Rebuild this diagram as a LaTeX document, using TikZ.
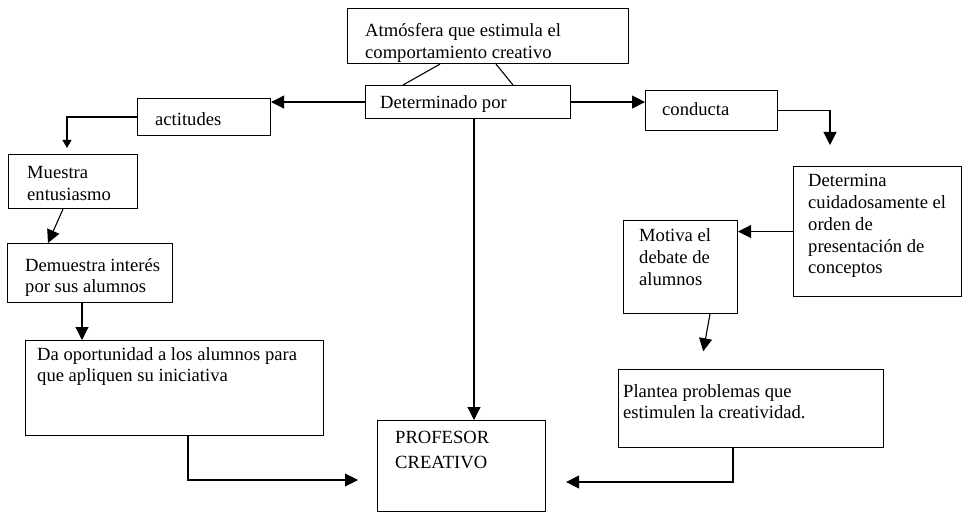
\documentclass[tikz,border=0pt]{standalone}
\usepackage{fontspec}
\setmainfont{Liberation Serif}
\usetikzlibrary{arrows.meta,calc}
\newcommand\mytxt[1]{\begin{tabular}[t]{@{}l@{}}#1\end{tabular}}
\begin{document}
\begin{tikzpicture}[x=1pt,y=-1pt,
  box/.style={draw, line width=1.1pt, inner sep=0pt, anchor=north west},
  txt/.style={anchor=base west, inner sep=0pt, font=\fontsize{18.6}{21.7}\selectfont},
  arr/.style={line width=1.1pt, -{Triangle[length=13pt,width=13pt]}},
  smallarr/.style={line width=1.1pt, -{Triangle[length=8pt,width=9pt]}},
  ln/.style={line width=1.1pt}]
\useasboundingbox (0,0) rectangle (964,513);
% boxes
\node[box, minimum width=281pt, minimum height=55pt] (atm) at (347,8) {};
\node[box, minimum width=205pt, minimum height=33pt] (det) at (365,85) {};
\node[box, minimum width=133pt, minimum height=37pt] (act) at (137,98) {};
\node[box, minimum width=132pt, minimum height=40pt] (con) at (645,90) {};
\node[box, minimum width=129pt, minimum height=54pt] (mue) at (8,154) {};
\node[box, minimum width=165pt, minimum height=59pt] (dem) at (7,243) {};
\node[box, minimum width=298pt, minimum height=95pt] (da) at (25,340) {};
\node[box, minimum width=168pt, minimum height=91pt] (prof) at (377,420) {};
\node[box, minimum width=265pt, minimum height=78pt] (pla) at (618,369) {};
\node[box, minimum width=114pt, minimum height=93pt] (mot) at (623,220) {};
\node[box, minimum width=168pt, minimum height=130pt] (dmn) at (793,166) {};
% texts
\node[txt] (tatm) at (365,37) {\mytxt{Atmósfera que estimula el\\comportamiento creativo}};
\node[txt] (tdet) at (380,109) {Determinado por};
\node[txt] (tact) at (155,126) {actitudes};
\node[txt] (tcon) at (662,116) {conducta};
\node[txt] (tmue) at (27,179) {\mytxt{Muestra\\entusiasmo}};
\node[txt] (tdem) at (25,271) {\mytxt{Demuestra interés\\por sus alumnos}};
\node[txt] (tda) at (37,360) {\mytxt{Da oportunidad a los alumnos para\\que apliquen su iniciativa}};
\node[txt] (tprof) at (395,443) {\mytxt{PROFESOR\\[4pt]CREATIVO}};
\node[txt] (tpla) at (623,397) {\mytxt{Plantea problemas que\\estimulen la creatividad.}};
\node[txt] (tmot) at (639,242) {\mytxt{Motiva el\\debate de\\alumnos}};
\node[txt] (tdmn) at (808,187) {\mytxt{Determina\\cuidadosamente el\\orden de\\presentación de\\conceptos}};
% helper coordinates
\coordinate (xa) at (63,0);
\coordinate (xb) at (48,0);
\coordinate (xc) at (82,0);
\coordinate (xd) at (188,0);
\coordinate (yd) at (0,480);
\coordinate (xe) at (733,0);
\coordinate (ye) at (0,482);
\coordinate (xf) at (474,0);
\coordinate (xg) at (830,0);
\coordinate (xh) at (710,0);
\coordinate (xi) at (700,0);
\coordinate (xj) at (403,0);
\coordinate (xk) at (440,0);
\coordinate (xl) at (513,0);
\coordinate (xm) at (496,0);
\coordinate (xn) at (67,0);
% connectors
\draw[ln] (det.north -| xj) -- (atm.south -| xk);
\draw[ln] (det.north -| xl) -- (atm.south -| xm);
\draw[arr] (det.west) -- (det.west -| act.east);
\draw[smallarr, shorten >=6pt] (act.west) -| (mue.north -| xn);
\draw[arr] (mue.south -| xa) -- (dem.north -| xb);
\draw[arr] (dem.south -| xc) -- (da.north -| xc);
\draw[arr, shorten >=19pt] (da.south -| xd) |- (prof.west |- yd);
\draw[arr] (det.south -| xf) -- (prof.north -| xf);
\draw[arr] (det.east) -- (det.east -| con.west);
\draw[arr, shorten >=21pt] (con.east) -| (dmn.north -| xg);
\draw[arr] (dmn.west) -- (dmn.west -| mot.east);
\draw[arr, shorten >=18pt] (mot.south -| xh) -- (pla.north -| xi);
\draw[arr, shorten >=20pt] (pla.south -| xe) |- (prof.east |- ye);
\end{tikzpicture}
\end{document}
